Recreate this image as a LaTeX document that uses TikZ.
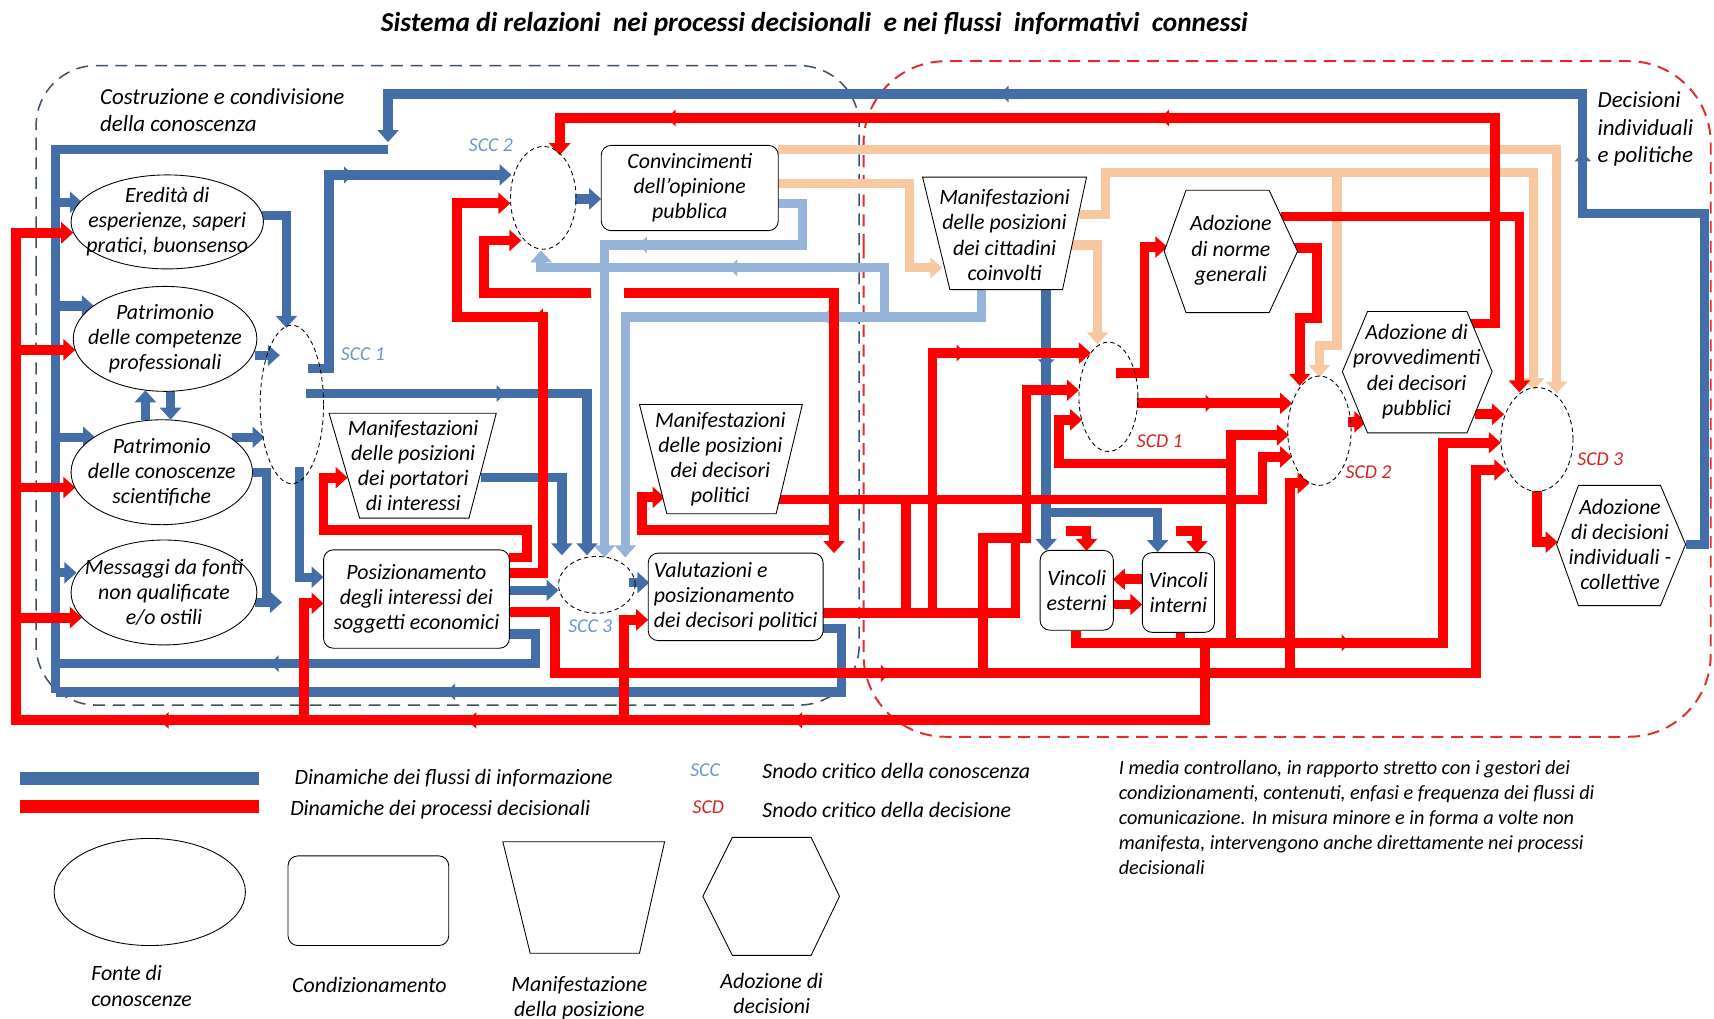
\documentclass[tikz,border=0pt]{standalone}
\usepackage{fontspec}
\setmainfont{Carlito}
\usepackage{tikz}
\usetikzlibrary{arrows.meta,decorations.markings,shapes.geometric}

\definecolor{flowblue}{RGB}{68,110,168}
\definecolor{lightflow}{RGB}{150,180,218}
\definecolor{peachflow}{RGB}{248,200,160}
\definecolor{flowred}{RGB}{255,0,0}
\definecolor{sccblue}{RGB}{105,150,205}
\definecolor{scdred}{RGB}{215,35,35}
\definecolor{regionblue}{RGB}{60,80,110}
\definecolor{regionred}{RGB}{225,45,45}

\begin{document}
\begin{tikzpicture}[x=1pt, y=-1pt,
  >={Triangle[width=19pt,length=11pt]},
  txt/.style={font=\itshape\fontsize{20}{23}\selectfont, align=center},
  legtxt/.style={font=\itshape\fontsize{20}{23}\selectfont},
  snodotxt/.style={font=\itshape\fontsize{18}{23}\selectfont},
  srcnode/.style={txt, draw, ellipse, line width=0.8pt, fill=white, inner sep=-40pt},
  condnode/.style={txt, draw, rounded corners=9pt, line width=0.8pt, fill=white, inner sep=-40pt},
  snodo/.style={draw, ellipse, dash pattern=on 4pt off 3pt, line width=0.8pt, inner sep=-40pt},
  outline/.style={draw, line width=0.8pt, fill=white},
  midarrow/.style={postaction={decorate, decoration={markings,
      mark=at position #1 with {\arrow{Triangle[width=15pt,length=8pt]}}}}},
  midarrow/.default=0.5,
  bflow/.style={flowblue, line width=8.5pt, ->},
  lflow/.style={lightflow, line width=8.5pt, ->},
  pflow/.style={peachflow, line width=8.5pt, ->},
  rflow/.style={flowred, line width=9pt, ->},
  bline/.style={flowblue, line width=8.5pt},
  rline/.style={flowred, line width=9pt},
]
\useasboundingbox (0,0) rectangle (1568,932);

% Title
\node[font=\bfseries\itshape\fontsize{25}{28}\selectfont] (title) at (745,22)
  {Sistema di relazioni\ \ nei processi decisionali\ \ e nei flussi\ \ informativi\ \ connessi};

% Dashed regions
\draw[regionblue, line width=1.4pt, dash pattern=on 11pt off 7pt, rounded corners=55pt]
  (33,300) -- (33,60) -- (786,60) -- (786,645) -- (33,645) -- cycle;
\draw[regionred, line width=1.8pt, dash pattern=on 11pt off 7pt, rounded corners=75pt]
  (790,300) -- (790,56) -- (1565,56) -- (1565,674) -- (790,674) -- cycle;
\node[txt, anchor=west, align=left, font=\itshape\fontsize{21}{25}\selectfont] (costruz) at (88,101) {Costruzione e condivisione\\della conoscenza};
\node[txt, anchor=west, align=left, font=\itshape\fontsize{21}{25}\selectfont] (decisioni) at (1458,118) {Decisioni\\individuali\\e politiche};

% Peach flows
\draw[pflow] (712,137) -- (1424,137) -- (1424,360);
\draw[pflow] (712,168) -- (832,168) -- (832,245) -- (862,245);
\draw[pflow] (987,196) -- (1011,196) -- (1011,158) -- (1403,158) -- (1403,357);
\draw[pflow] (1223,158) -- (1223,316) -- (1207,316) -- (1207,345);
\draw[pflow] (980,224) -- (1004,224) -- (1004,315);

% Light blue flows
\draw[lflow, midarrow=0.4] (711,186) -- (734,186) -- (734,224) -- (553,224) -- (553,510);
\draw[lflow, midarrow=0.3] (898,265) -- (898,290) -- (572,290) -- (572,510);
\draw[lflow, midarrow=0.5] (809,290) -- (809,245) -- (495,245) -- (495,229);

% Information flows
\draw[bflow, midarrow=0.29, midarrow=0.64] (1542,498) -- (1559,498) -- (1559,195) -- (1448,195)
  -- (1448,86) -- (355,86) -- (355,130);
\draw[bline] (355,137) -- (51,137) -- (51,634);
\draw[bflow] (51,185) -- (75,185);
\draw[bflow] (51,280) -- (86,280);
\draw[bflow] (51,400) -- (87,400);
\draw[bflow] (51,524) -- (70,524);
\draw[bflow] (240,197) -- (262,197) -- (262,300);
\draw[bflow] (233,325) -- (256,325);
\draw[bflow] (212,400) -- (242,400);
\draw[bline] (231,432) -- (244,432) -- (244,551);
\draw[bflow] (233,551) -- (258,551);
\draw[bflow, midarrow=0.6] (282,337) -- (301,337) -- (301,160) -- (468,160);
\draw[bflow, midarrow=0.45] (280,360) -- (537,360) -- (537,508);
\draw[bflow] (274,427) -- (274,528) -- (296,528);
\draw[bflow] (440,437) -- (514,437) -- (514,508);
\draw[bflow] (466,540) -- (511,540);
\draw[bflow] (575,533) -- (594,533);
\draw[bflow] (526,182) -- (550,182);
\draw[bflow] (133,384) -- (133,357);
\draw[bflow] (156,357) -- (156,384);
\draw[bflow, midarrow=0.3] (957,265) -- (957,504);
\draw[bflow] (957,469) -- (1059,469) -- (1059,505);
\draw[bline, midarrow=0.6] (466,580) -- (490,580) -- (490,607) -- (51,607);
\draw[bline, midarrow=0.55] (753,575) -- (770,575) -- (770,633) -- (51,633);

% Decision flows
\draw[rflow, midarrow=0.47, midarrow=0.88] (1345,296) -- (1368,296) -- (1368,108) -- (512,108) -- (512,142);
\draw[rflow] (1172,198) -- (1390,198) -- (1390,359);
\draw[rflow] (1184,227) -- (1205,227) -- (1205,291) -- (1189,291) -- (1189,353);
\draw[rflow] (1021,341) -- (1047,341) -- (1047,226) -- (1068,226);
\draw[rflow, midarrow] (1040,369) -- (1182,369);
\draw[rflow] (1233,386) -- (1250,386);
\draw[rflow] (1349,379) -- (1376,379);
\draw[rflow] (1406,449) -- (1406,496) -- (1425,496);
\draw[rflow] (1126,589) -- (1126,398) -- (1179,398);
\draw[rflow, midarrow=0.3] (706,457) -- (1155,457) -- (1155,418) -- (1182,418);
\draw[rflow] (1180,620) -- (1180,442) -- (1198,442);
\draw[rflow, midarrow=0.45] (984,577) -- (984,588) -- (1320,588) -- (1320,405) -- (1373,405);
\draw[rline] (1080,579) -- (1080,588);
\draw[rflow, midarrow=0.35] (466,560) -- (508,560) -- (508,616) -- (1350,616) -- (1350,430) -- (1378,430);
\draw[rflow] (278,660) -- (278,552) -- (296,552);
\draw[rflow] (571,660) -- (571,567) -- (593,567);
\draw[rflow, midarrow=0.27, midarrow=0.45, midarrow=0.62] (1102,588) -- (1102,659) -- (15,659)
  -- (15,213) -- (67,213);
\draw[rflow] (15,320) -- (69,320);
\draw[rflow] (15,446) -- (69,446);
\draw[rflow] (15,565) -- (75,565);
\draw[rline] (753,561) -- (929,561) -- (929,492);
\draw[rline] (829,457) -- (829,561);
\draw[rflow, midarrow=0.7] (853,561) -- (853,323) -- (998,323);
\draw[rflow] (899,616) -- (899,492) -- (939,492) -- (939,357) -- (987,357);
\draw[rflow] (1126,424) -- (969,424) -- (969,384) -- (990,384);
\draw[rflow] (975,486) -- (994,486) -- (994,504);
\draw[rflow] (1076,486) -- (1095,486) -- (1095,506);
\draw[rflow] (1045,530) -- (1018,530);
\draw[rflow] (1018,553) -- (1045,553);
\draw[rflow] (571,268) -- (763,268) -- (763,506);
\draw[rflow] (541,268) -- (443,268) -- (443,220) -- (477,220);
\draw[rflow] (763,485) -- (587,485) -- (587,455) -- (608,455);
\draw[rflow, midarrow=0.55] (466,524) -- (497,524) -- (497,290) -- (418,290) -- (418,186) -- (467,186);
\draw[rflow] (466,510) -- (482,510) -- (482,485) -- (296,485) -- (296,437) -- (318,437);

% Knowledge sources
\node[srcnode, minimum width=176pt, minimum height=86pt] (eredita) at (153,203) {Eredità di\\esperienze, saperi\\pratici, buonsenso};
\node[srcnode, minimum width=168pt, minimum height=96pt] (compet) at (151,310) {Patrimonio\\delle competenze\\professionali};
\node[srcnode, minimum width=166pt, minimum height=96pt] (scient) at (148,432) {Patrimonio\\delle conoscenze\\scientifiche};
\node[srcnode, minimum width=170pt, minimum height=96pt] (messaggi) at (150,542) {Messaggi da fonti\\non qualificate\\e/o ostili};

% Conditioning boxes
\node[condnode, minimum width=162pt, minimum height=78pt] (opinione) at (631,172) {Convincimenti\\dell'opinione\\pubblica};
\node[condnode, minimum width=170pt, minimum height=90pt] (posiz) at (381,548) {Posizionamento\\degli interessi dei\\soggetti economici};
\node[condnode, minimum width=160pt, minimum height=80pt, align=left] (valut) at (673,546) {Valutazioni e\\posizionamento\\dei decisori politici};
\node[condnode, minimum width=67pt, minimum height=73pt] (vinest) at (985,540) {Vincoli\\esterni};
\node[condnode, minimum width=66pt, minimum height=73pt] (vinint) at (1078,542) {Vincoli\\interni};

% Positions (trapezoids)
\draw[outline] (301,378) -- (454,378) -- (429,474) -- (329,474) -- cycle;
\node[txt] (portatori) at (378,426) {Manifestazioni\\delle posizioni\\dei portatori\\di interessi};
\draw[outline] (585,370) -- (734,370) -- (710,470) -- (610,470) -- cycle;
\node[txt] (politici) at (659,420) {Manifestazioni\\delle posizioni\\dei decisori\\politici};
\draw[outline] (844,162) -- (994,162) -- (972,265) -- (869,265) -- cycle;
\node[txt] (cittadini) at (919,215) {Manifestazioni\\delle posizioni\\dei cittadini\\coinvolti};

% Decisions (hexagons)
\draw[outline] (1065,230) -- (1085,174) -- (1161,174) -- (1187,230) -- (1161,286) -- (1085,286) -- cycle;
\node[txt] (norme) at (1126,229) {Adozione\\di norme\\generali};
\draw[outline] (1228,340) -- (1251,285) -- (1342,285) -- (1365,340) -- (1342,396) -- (1251,396) -- cycle;
\node[txt] (provved) at (1296,340) {Adozione di\\provvedimenti\\dei decisori\\pubblici};
\draw[outline] (1424,498) -- (1444,444) -- (1519,444) -- (1542,498) -- (1519,554) -- (1444,554) -- cycle;
\node[txt] (decind) at (1482,498) {Adozione\\di decisioni\\individuali -\\collettive};

% Critical nodes
\node[snodo, minimum width=58pt, minimum height=145pt] (scc1) at (267,370) {};
\node[snodo, minimum width=60pt, minimum height=94pt] (scc2) at (497,181) {};
\node[snodo, minimum width=70pt, minimum height=52pt] (scc3) at (546,535) {};
\node[snodo, minimum width=54pt, minimum height=100pt] (scd1) at (1014,363) {};
\node[snodo, minimum width=58pt, minimum height=100pt] (scd2) at (1207,394) {};
\node[snodo, minimum width=66pt, minimum height=95pt] (scd3) at (1406,402) {};
\node[snodotxt, sccblue] (scc1-l) at (332,324) {SCC 1};
\node[snodotxt, sccblue] (scc2-l) at (449,133) {SCC 2};
\node[snodotxt, sccblue] (scc3-l) at (540,573) {SCC 3};
\node[snodotxt, scdred] (scd1-l) at (1061,404) {SCD 1};
\node[snodotxt, scdred] (scd2-l) at (1252,432) {SCD 2};
\node[snodotxt, scdred] (scd3-l) at (1464,420) {SCD 3};

% Legend
\fill[flowblue] (18,706) rectangle (237,718);
\fill[flowred] (18,732) rectangle (237,744);
\node[legtxt, anchor=west] (leg-info) at (266,712) {Dinamiche dei flussi di informazione};
\node[legtxt, anchor=west] (leg-dec) at (262,741) {Dinamiche dei processi decisionali};
\node[snodotxt, sccblue] (leg-scc) at (645,705) {SCC};
\node[snodotxt, scdred] (leg-scd) at (648,738) {SCD};
\node[legtxt, anchor=west] (leg-scct) at (694,705) {Snodo critico della conoscenza};
\node[legtxt, anchor=west] (leg-scdt) at (694,741) {Snodo critico della decisione};
\node[anchor=north west, align=left, font=\itshape\fontsize{18.5}{23}\selectfont] (leg-media) at (1020,692)
  {I media controllano, in rapporto stretto con i gestori dei\\condizionamenti, contenuti, enfasi e frequenza dei flussi di\\comunicazione. In misura minore e in forma a volte non\\manifesta, intervengono anche direttamente nei processi\\decisionali};
\node[srcnode, minimum width=175pt, minimum height=98pt] (leg-src) at (137,816) {};
\node[condnode, minimum width=147pt, minimum height=82pt] (leg-cond) at (337,824) {};
\draw[outline] (460,770) -- (608,770) -- (585,872) -- (485,872) -- cycle;
\draw[outline] (643,820) -- (670,766) -- (742,766) -- (768,820) -- (742,874) -- (670,874) -- cycle;
\node[legtxt, anchor=west, align=left] (leg-src-t) at (80,902) {Fonte di\\conoscenze};
\node[legtxt] (leg-cond-t) at (338,901) {Condizionamento};
\node[legtxt, align=center] (leg-man-t) at (530,913) {Manifestazione\\della posizione};
\node[legtxt, align=center] (leg-ado-t) at (706,909) {Adozione di\\decisioni};
\end{tikzpicture}
\end{document}
